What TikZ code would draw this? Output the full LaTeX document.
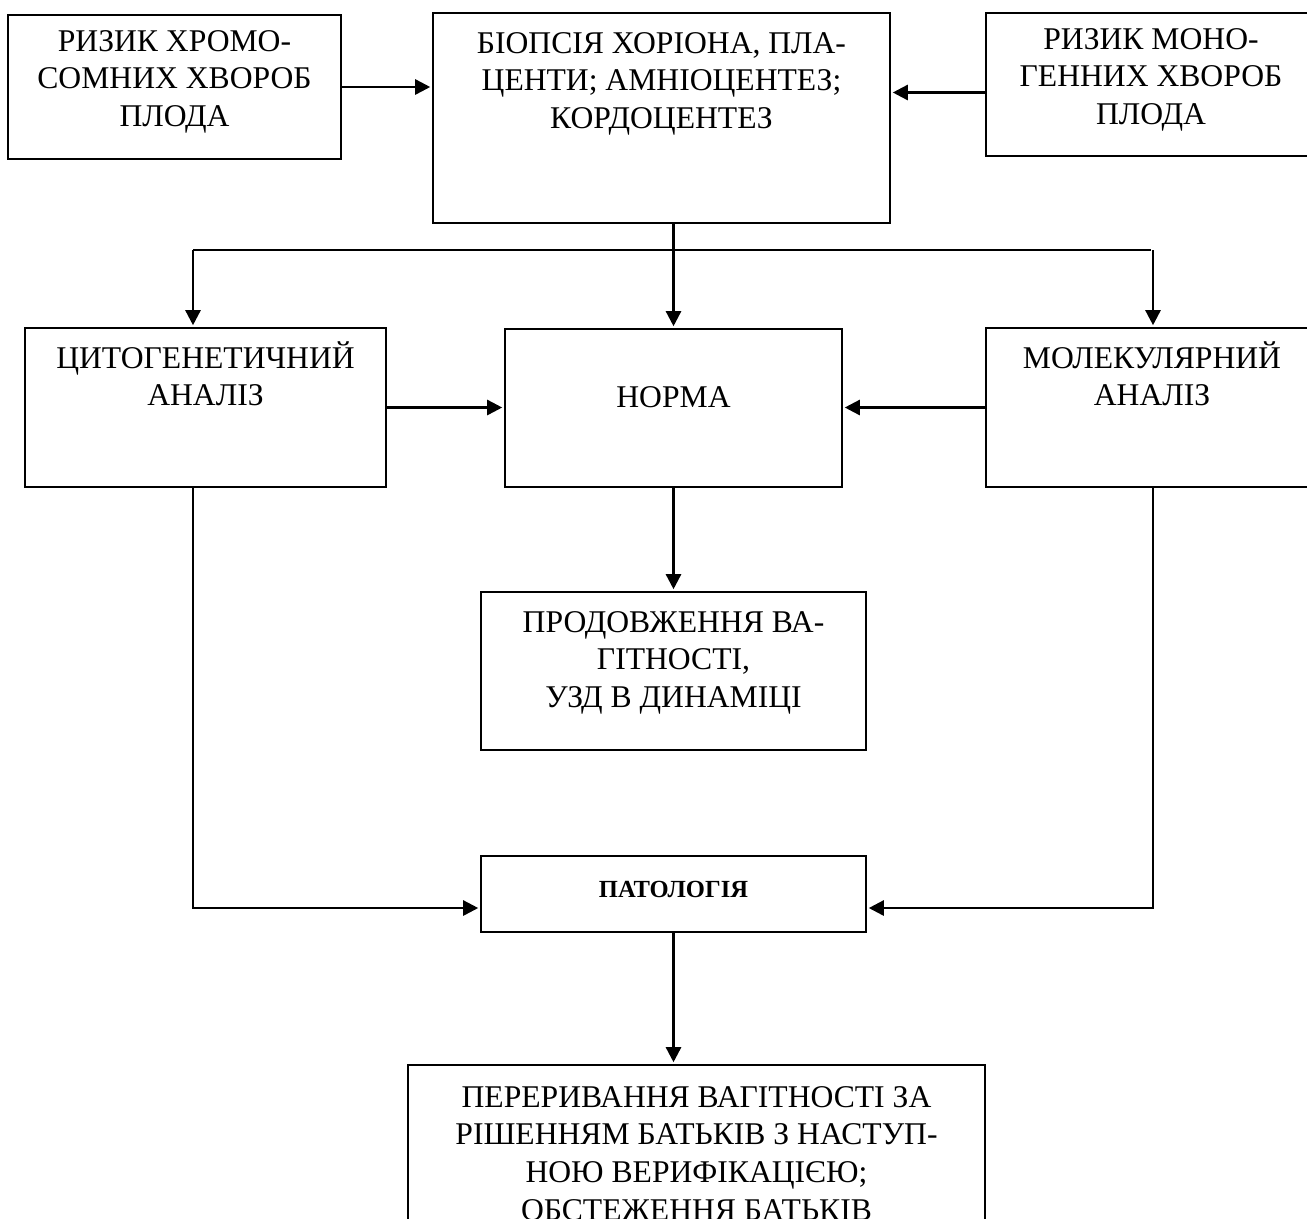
\documentclass[tikz,border=0pt]{standalone}
\usepackage{fontspec}
\setmainfont{Liberation Serif}
\usetikzlibrary{arrows.meta,positioning,calc}
\newcommand{\boxtext}[4][0.8cm]{\parbox[c][#3][t]{#2}{\centering\rule{0pt}{#1}#4}}

\begin{document}
\begin{tikzpicture}[x=0.02cm, y=-0.02cm, line width=1.4pt, shorten >=1pt, >={Triangle[length=0.3cm,width=0.3cm]}, block/.style={draw,inner sep=0pt,line width=1.2pt,font=\fontsize{18}{21.6}\selectfont}]%y grows downwards
\useasboundingbox (0,0) rectangle (1307,1218);
\clip (0,0) rectangle (1307,1218);
\begin{scope}
\node[block] (chrom) at (174.5,87) {\boxtext[0.72cm]{6.66cm}{2.88cm}{РИЗИК ХРОМО-\\СОМНИХ ХВОРОБ\\ПЛОДА}};
\node[block] (biopsy) at (661.5,118) {\boxtext{9.14cm}{4.2cm}{БІОПСІЯ ХОРІОНА, ПЛА-\\ЦЕНТИ; АМНІОЦЕНТЕЗ;\\КОРДОЦЕНТЕЗ}};
\node[block] (mono) at (1151,84.5) {\boxtext[0.72cm]{6.6cm}{2.86cm}{РИЗИК МОНО-\\ГЕННИХ ХВОРОБ\\ПЛОДА}};
\node[block] (cyto) at (205.5,407.5) {\boxtext{7.22cm}{3.18cm}{ЦИТОГЕНЕТИЧНИЙ\\АНАЛІЗ}};
\node[block] (norma) at (673.5,408) {\boxtext[1.56cm]{6.74cm}{3.16cm}{НОРМА}};
\node[block] (molec) at (1152,407.5) {\boxtext{6.64cm}{3.18cm}{МОЛЕКУЛЯРНИЙ\\АНАЛІЗ}};
\node[block] (prod) at (673.5,671) {\boxtext{7.7cm}{3.16cm}{ПРОДОВЖЕННЯ ВА-\\ГІТНОСТІ,\\УЗД В ДИНАМІЦІ}};
\node[block,font=\fontsize{14}{17}\selectfont\bfseries] (patol) at (673.5,894) {\boxtext[0.82cm]{7.7cm}{1.52cm}{ПАТОЛОГІЯ}};
\node[block] (stop) at (696.5,1165) {\boxtext[0.84cm]{11.54cm}{4cm}{ПЕРЕРИВАННЯ ВАГІТНОСТІ ЗА\\РІШЕННЯМ БАТЬКІВ З НАСТУП-\\НОЮ ВЕРИФІКАЦІЄЮ;\\ОБСТЕЖЕННЯ БАТЬКІВ}};
\end{scope}
\coordinate (bl) at (193,250);
\coordinate (br) at (1153,250);
\coordinate (pl) at (193,908);
\coordinate (pr) at (1153,908);
\begin{scope}
\draw[->] (chrom.east) -- (chrom.east -| biopsy.west);
\draw[->] ([yshift=-0.16cm]mono.west) -- ([yshift=-0.16cm]mono.west -| biopsy.east);
\draw[->] (biopsy.south -| norma.north) -- (norma.north);
\draw (bl) -- (br);
\draw[->] (bl) -- (bl |- cyto.north);
\draw[->] (br) -- (br |- molec.north);
\draw[->] (cyto.east) -- (cyto.east -| norma.west);
\draw[->] (molec.west) -- (molec.west -| norma.east);
\draw[->] (norma.south) -- (prod.north);
\draw[->] (bl |- cyto.south) -- (pl) -- (pl -| patol.west);
\draw[->] (br |- molec.south) -- (pr) -- (pr -| patol.east);
\draw[->] (patol.south) -- (patol.south |- stop.north);
\end{scope}
\end{tikzpicture}
\end{document}
